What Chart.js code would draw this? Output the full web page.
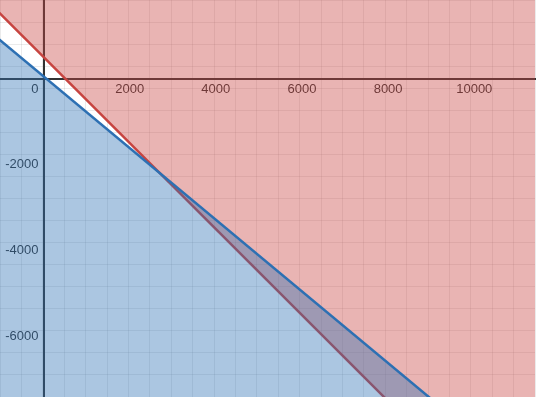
<!DOCTYPE html>
<html>
<head>
<meta charset="utf-8">
<script src="https://cdn.jsdelivr.net/npm/chart.js@4/dist/chart.umd.min.js"></script>
<style>
  html, body { margin: 0; padding: 0; background: #ffffff; }
  #wrap { width: 540px; height: 397px; }
</style>
</head>
<body>
<div id="wrap"><canvas id="c" width="540" height="397"></canvas></div>
<script>
// Visible window of the graph
const xRange = [-1010, 11410];
const yRange = [-7405, 1826];

// Boundary line end points
const redX = [-1500, 12000];
const redY = [2000, -11500];
const blueX = [-1500, 12000];
const blueY = [1300, -9950];

// Tick labels shown
const xTickLabels = ['2000', '4000', '6000', '8000', '10000'];
const yTickLabels = ['-2000', '-4000', '-6000'];
const originLabel = '0';

const toPoints = (xs, ys) => xs.map((x, i) => ({ x: x, y: ys[i] }));

const FONT = { family: "'Liberation Sans', Arial, sans-serif", size: 13 };
const TEXT = '#333333';
const MAJOR = 'rgba(0,0,0,0.2)';
const MINOR = 'rgba(0,0,0,0.08)';

function gridColor(ctx) {
  const v = ctx.tick ? ctx.tick.value : null;
  if (v === 0) return 'rgba(0,0,0,0)';
  if (v !== null && Math.abs(v % 2000) < 1e-6) return MAJOR;
  return MINOR;
}

// Axis tick labels, drawn under the translucent regions like the reference
const axisLabelPlugin = {
  id: 'axisLabels',
  beforeDatasetsDraw(chart) {
    const ctx = chart.ctx;
    const xs = chart.scales.x, ys = chart.scales.y;
    const ox = xs.getPixelForValue(0);
    const oy = ys.getPixelForValue(0);
    ctx.save();
    ctx.font = FONT.size + 'px ' + FONT.family;
    ctx.fillStyle = TEXT;
    ctx.textBaseline = 'top';
    ctx.textAlign = 'center';
    xTickLabels.forEach(l => ctx.fillText(l, xs.getPixelForValue(Number(l)), oy + 4));
    ctx.textAlign = 'right';
    ctx.textBaseline = 'middle';
    yTickLabels.forEach(l => ctx.fillText(l, ox - 5, ys.getPixelForValue(Number(l))));
    ctx.textBaseline = 'top';
    ctx.fillText(originLabel, ox - 5, oy + 4);
    ctx.restore();
  }
};

new Chart(document.getElementById('c'), {
  type: 'line',
  data: {
    datasets: [
      {
        label: 'blue',
        data: toPoints(blueX, blueY),
        borderColor: '#2d70b3',
        backgroundColor: 'rgba(45,112,179,0.4)',
        borderWidth: 2.5,
        fill: 'start',
        pointRadius: 0,
        tension: 0,
        clip: 0,
        order: 1
      },
      {
        label: 'red',
        data: toPoints(redX, redY),
        borderColor: '#c74440',
        backgroundColor: 'rgba(199,68,64,0.4)',
        borderWidth: 2.5,
        fill: 'end',
        pointRadius: 0,
        tension: 0,
        clip: 0,
        order: 2
      }
    ]
  },
  options: {
    responsive: false,
    animation: false,
    devicePixelRatio: 1,
    layout: { padding: { left: 0, top: 0, right: 5, bottom: 0 } },
    plugins: { legend: { display: false }, tooltip: { enabled: false } },
    scales: {
      x: {
        type: 'linear',
        min: xRange[0],
        max: xRange[1],
        position: { y: 0 },
        grid: { color: gridColor, lineWidth: 1, drawTicks: false },
        border: { display: true, color: '#333333', width: 2 },
        ticks: { stepSize: 500, includeBounds: false, autoSkip: false, display: false }
      },
      y: {
        type: 'linear',
        min: yRange[0],
        max: yRange[1],
        position: { x: 0 },
        grid: { color: gridColor, lineWidth: 1, drawTicks: false },
        border: { display: true, color: '#333333', width: 2 },
        ticks: { stepSize: 500, includeBounds: false, autoSkip: false, display: false }
      }
    }
  },
  plugins: [axisLabelPlugin]
});
</script>
</body>
</html>
